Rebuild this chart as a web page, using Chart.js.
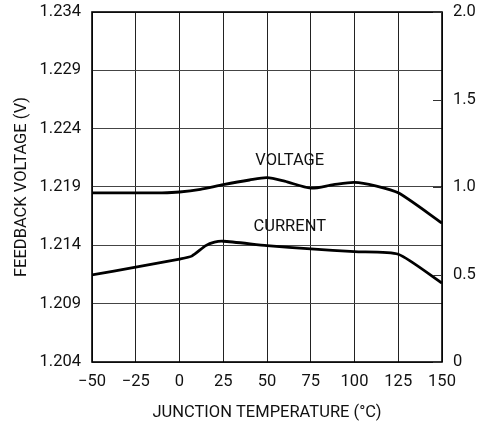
<!DOCTYPE html>
<html>
<head>
<meta charset="utf-8">
<script src="https://cdn.jsdelivr.net/npm/chart.js@4/dist/chart.umd.min.js"></script>
<style>
html,body{margin:0;padding:0;background:#fff;}
#wrap{width:477px;height:423px;position:relative;}
</style>
</head>
<body>
<div id="wrap"><canvas id="c" width="477" height="423"></canvas></div>
<script>
const FONT = "Roboto, 'Liberation Sans', sans-serif";

const xTicks = [-50, -25, 0, 25, 50, 75, 100, 125, 150];
const leftTicks = [1.204, 1.209, 1.214, 1.219, 1.224, 1.229, 1.234];
const rightTicks = [0, 0.5, 1.0, 1.5, 2.0];
const rightTickLabels = ['0', '0.5', '1.0', '1.5', '2.0'];

const voltageTemps  = [-50, -25, -10, 0, 12, 25, 40, 50, 60, 75, 88, 100, 112, 125, 150];
const voltageValues = [1.2185, 1.2185, 1.2185, 1.21857, 1.2188, 1.2192, 1.2196, 1.2198, 1.2195, 1.2189, 1.2192, 1.2194, 1.2191, 1.2185, 1.2159];

const currentTemps  = [-50, -25, 0, 7, 15, 20, 25, 50, 75, 100, 125, 150];
const currentValues = [0.498, 0.542, 0.588, 0.605, 0.665, 0.685, 0.690, 0.665, 0.646, 0.631, 0.616, 0.451];

const curveLabels = [
  {text: 'VOLTAGE', x: 63, y: 1.22125, axis: 'y'},
  {text: 'CURRENT', x: 63, y: 1.2156, axis: 'y'}
];

const xTitle = 'JUNCTION TEMPERATURE (°C)';
const yTitle = 'FEEDBACK VOLTAGE (V)';

const toPts = (xs, ys) => xs.map((x, i) => ({x: x, y: ys[i]}));

const extras = {
  id: 'extras',
  afterDatasetsDraw(chart) {
    const ctx = chart.ctx;
    const a = chart.chartArea;
    const y2 = chart.scales.y2;
    ctx.save();
    ctx.strokeStyle = '#000';
    ctx.lineWidth = 1.6;
    ctx.strokeRect(a.left, a.top, a.right - a.left, a.bottom - a.top);
    ctx.lineWidth = 1;
    ctx.strokeStyle = '#333';
    rightTicks.forEach(v => {
      const py = Math.round(y2.getPixelForValue(v)) + 0.5;
      ctx.beginPath();
      ctx.moveTo(a.right - 9, py);
      ctx.lineTo(a.right, py);
      ctx.stroke();
    });
    ctx.fillStyle = '#111';
    ctx.font = '16.5px ' + FONT;
    ctx.textAlign = 'center';
    ctx.textBaseline = 'middle';
    curveLabels.forEach(l => {
      const px = chart.scales.x.getPixelForValue(l.x);
      const py = chart.scales[l.axis].getPixelForValue(l.y);
      ctx.fillText(l.text, px, py);
    });
    ctx.restore();
  }
};

const noPadV = s => { s.paddingTop = 0; s.paddingBottom = 0; };

new Chart(document.getElementById('c'), {
  type: 'line',
  data: {
    datasets: [
      {
        label: 'VOLTAGE',
        data: toPts(voltageTemps, voltageValues),
        yAxisID: 'y',
        borderColor: '#000',
        borderWidth: 2.8,
        pointRadius: 0,
        tension: 0.25,
        fill: false
      },
      {
        label: 'CURRENT',
        data: toPts(currentTemps, currentValues),
        yAxisID: 'y2',
        borderColor: '#000',
        borderWidth: 2.8,
        pointRadius: 0,
        tension: 0.2,
        fill: false
      }
    ]
  },
  options: {
    responsive: false,
    animation: false,
    devicePixelRatio: 1,
    layout: {padding: {top: 12, left: 0, right: 0, bottom: 0}},
    plugins: {legend: {display: false}, tooltip: {enabled: false}},
    scales: {
      x: {
        type: 'linear',
        min: -50, max: 150,
        afterBuildTicks: s => { s.ticks = xTicks.map(v => ({value: v})); },
        afterFit: s => { s.height = 61; s.paddingLeft = 0; s.paddingRight = 0; },
        grid: {color: '#222', lineWidth: 1, drawTicks: false},
        border: {display: false},
        ticks: {
          color: '#111', padding: 10, maxRotation: 0, autoSkip: false,
          font: {family: FONT, size: 16.5},
          callback: v => String(v).replace('-', '\u2212')
        },
        title: {display: true, text: xTitle, color: '#111', font: {family: FONT, size: 16.5}, padding: {top: 6, bottom: 0}}
      },
      y: {
        position: 'left',
        min: 1.204, max: 1.234,
        afterBuildTicks: s => { s.ticks = leftTicks.map(v => ({value: v})); },
        afterFit: s => { s.width = 92; noPadV(s); },
        grid: {color: '#444', lineWidth: 1, drawTicks: false},
        border: {display: false},
        ticks: {
          color: '#111', padding: 11, autoSkip: false,
          font: {family: FONT, size: 16.5},
          callback: v => v.toFixed(3)
        },
        title: {display: true, text: yTitle, color: '#111', font: {family: FONT, size: 16.5}, padding: {top: 12, bottom: 0}}
      },
      y2: {
        position: 'right',
        min: 0, max: 2,
        afterBuildTicks: s => { s.ticks = rightTicks.map(v => ({value: v})); },
        afterFit: s => { s.width = 35; noPadV(s); },
        grid: {drawOnChartArea: false, drawTicks: false},
        border: {display: false},
        ticks: {
          color: '#111', padding: 11, autoSkip: false,
          font: {family: FONT, size: 16.5},
          callback: (v, i) => rightTickLabels[rightTicks.indexOf(v)]
        }
      }
    }
  },
  plugins: [extras]
});
</script>
</body>
</html>
